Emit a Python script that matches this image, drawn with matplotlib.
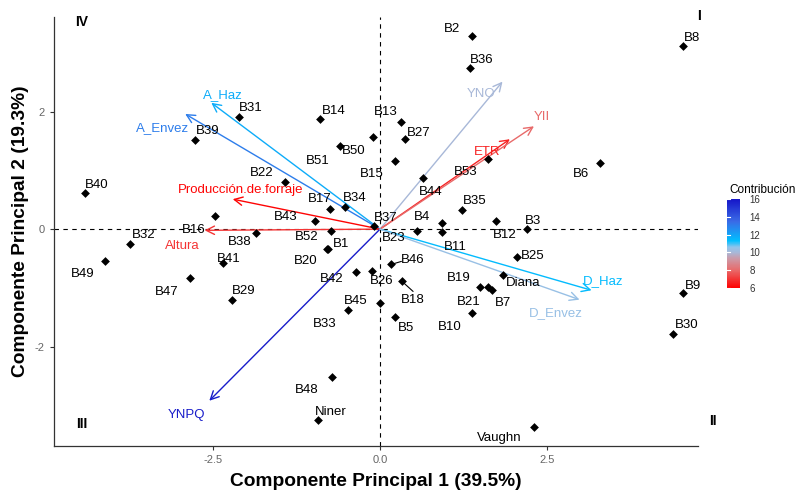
import numpy as np
import matplotlib.pyplot as plt
from matplotlib.colors import LinearSegmentedColormap, Normalize
import matplotlib.cm as cm

plt.rcParams['font.family'] = ['Liberation Sans', 'DejaVu Sans']

# individuals (PCA scores)
ind_names = ['B1', 'B2', 'B3', 'B4', 'B5', 'B6', 'B7', 'B8', 'B9', 'B10', 'B11', 'B12', 'B13',
             'B14', 'B15', 'B16', 'B17', 'B18', 'B19', 'B20', 'B21', 'B22', 'B23', 'B25', 'B26',
             'B27', 'B29', 'B30', 'B31', 'B32', 'B33', 'B34', 'B35', 'B36', 'B37', 'B38', 'B39',
             'B40', 'B41', 'B42', 'B43', 'B44', 'B45', 'B46', 'B47', 'B48', 'B49', 'B50', 'B51',
             'B52', 'B53', 'Diana', 'Niner', 'Vaughn']
ind_pc1 = [-0.78, 1.38, 2.19, 0.92, 0.23, 3.28, 1.67, 4.52, 4.52, 1.38, 0.93, 1.74, 0.31,
           -0.89, 0.22, -2.46, -0.74, 0.33, 1.50, -0.79, 1.62, -1.42, 0.56, 2.05, -0.12,
           0.37, -2.21, 4.38, -2.11, -3.73, -0.48, -0.52, 1.22, 1.34, -0.09, -1.85, -2.77,
           -4.41, -2.34, -0.36, -0.97, 0.64, 0.00, 0.17, -2.84, -0.72, -4.11, -0.60, -0.10,
           -0.73, 1.61, 1.84, -0.93, 2.30]
ind_pc2 = [-0.34, 3.29, 0.00, 0.10, -1.49, 1.13, -1.04, 3.11, -1.08, -1.42, -0.05, 0.14, 1.82,
           1.87, 1.16, 0.22, 0.35, -0.89, -0.98, -0.33, -0.99, 0.81, -0.04, -0.47, -0.71,
           1.53, -1.21, -1.78, 1.91, -0.26, -1.37, 0.37, 0.33, 2.75, 0.05, -0.06, 1.52,
           0.62, -0.58, -0.73, 0.14, 0.87, -1.25, -0.60, -0.83, -2.52, -0.54, 1.41, 1.57,
           -0.03, 1.20, -0.78, -3.24, -3.37]

# variables (loadings) and their contribution
var_names = ['A_Haz', 'A_Envez', 'Producción.de.forraje', 'Altura', 'YNPQ', 'YNO', 'ETR', 'YII',
             'D_Haz', 'D_Envez']
var_pc1 = [-2.52, -2.91, -2.20, -2.62, -2.55, 1.83, 1.94, 2.30, 3.16, 2.98]
var_pc2 = [2.15, 1.96, 0.51, -0.02, -2.92, 2.51, 1.53, 1.75, -1.04, -1.20]
var_contrib = [11.8, 13.0, 6.1, 7.0, 15.8, 10.0, 6.7, 8.0, 11.4, 10.4]

# label offsets in pixels (dx, dy screen-down)
ind_off = {'B1': (13, -5), 'B2': (-20, -7), 'B3': (6, -8), 'B4': (-20, -6), 'B5': (11, 11),
           'B6': (-19, 11), 'B7': (11, 13), 'B8': (9, -8), 'B9': (10, -7), 'B10': (-23, 14),
           'B11': (13, 15), 'B12': (8, 14), 'B13': (-15, -10), 'B14': (13, -8), 'B15': (-23, 13),
           'B16': (-22, 14), 'B17': (-11, -10), 'B18': (11, 19), 'B19': (-22, -9), 'B20': (-21, 12),
           'B21': (-20, 15), 'B22': (-23, -9), 'B23': (-24, 7), 'B25': (15, -1), 'B26': (10, 10),
           'B27': (14, -6), 'B29': (12, -9), 'B30': (13, -9), 'B31': (12, -9), 'B32': (13, -9),
           'B33': (-23, 14), 'B34': (9, -9), 'B35': (13, -9), 'B36': (12, -8), 'B37': (12, -8),
           'B38': (-16, 9), 'B39': (13, -9), 'B40': (12, -8), 'B41': (5, -4), 'B42': (-24, 7),
           'B43': (-29, -4), 'B44': (8, 14), 'B45': (-24, -2), 'B46': (21, -4), 'B47': (-23, 14),
           'B48': (-25, 13), 'B49': (-22, 13), 'B50': (14, 5), 'B51': (-56, 24), 'B52': (-24, 6),
           'B53': (-22, 13), 'Diana': (20, 8), 'Niner': (13, -8), 'Vaughn': (-35, 11)}
var_off = {'A_Haz': (12, -8), 'A_Envez': (-23, 14), 'Producción.de.forraje': (8, -9),
           'Altura': (-22, 16), 'YNPQ': (-23, 14), 'YNO': (-21, 12), 'ETR': (-23, 13),
           'YII': (8, -9), 'D_Haz': (12, -9), 'D_Envez': (-24, 13)}
seg_names = {'B46': (10, -3), 'B18': (11, 10)}

cmap = LinearSegmentedColormap.from_list('contrib', [
    (0.0, '#ff0000'), (0.2, '#e86a6a'), (0.33, '#cc9aa8'), (0.4, '#a8b8d8'),
    (0.46, '#90c4ec'), (0.53, '#00bfff'), (0.75, '#3a6ae6'), (1.0, '#1515c8')])
norm = Normalize(vmin=6, vmax=16)

fig = plt.figure(figsize=(8.01, 4.95), dpi=100)
ax = fig.add_axes([0.0674, 0.099, 0.804, 0.8667])
ax.set_xlim(-4.87, 4.75)
ax.set_ylim(-3.69, 3.61)

ax.axhline(0, color='black', ls=(0, (4, 4)), lw=0.8, zorder=1)
ax.axvline(0, color='black', ls=(0, (4, 4)), lw=0.8, zorder=1)

ax.scatter(ind_pc1, ind_pc2, marker='D', s=20, color='black', zorder=3, linewidths=0)
for n, x, y in zip(ind_names, ind_pc1, ind_pc2):
    dx, dy = ind_off[n]
    ax.annotate(n, (x, y), xytext=(dx, -dy), textcoords='offset pixels',
                ha='center', va='center', fontsize=9.5, color='black', zorder=4)
    if n in seg_names:
        sx, sy = seg_names[n]
        ax.annotate('', (x, y), xytext=(sx, -sy), textcoords='offset pixels',
                    arrowprops=dict(arrowstyle='-', color='black', lw=0.8, shrinkA=0, shrinkB=0))

for n, x, y, c in zip(var_names, var_pc1, var_pc2, var_contrib):
    col = cmap(norm(c))
    ax.annotate('', (x, y), xytext=(0, 0),
                arrowprops=dict(arrowstyle='->,head_length=0.6,head_width=0.3', color=col,
                                lw=1.0, shrinkA=0, shrinkB=0), zorder=2)
    dx, dy = var_off[n]
    ax.annotate(n, (x, y), xytext=(dx, -dy), textcoords='offset pixels',
                ha='center', va='center', fontsize=9.5, color=col, zorder=4)

for s in ['top', 'right']:
    ax.spines[s].set_visible(False)
for s in ['left', 'bottom']:
    ax.spines[s].set_color('#333333')
    ax.spines[s].set_linewidth(0.9)
ax.set_xticks([-2.5, 0.0, 2.5])
ax.set_xticklabels(['-2.5', '0.0', '2.5'])
ax.set_yticks([-2, 0, 2])
ax.set_yticklabels(['-2', '0', '2'])
ax.tick_params(colors='#333333', labelcolor='#666666', labelsize=8, length=3)

ax.set_xlabel('Componente Principal 1 (39.5%)', fontsize=13.8, fontweight='bold', labelpad=6)
ax.set_ylabel('Componente Principal 2 (19.3%)', fontsize=13.8, fontweight='bold', labelpad=4)

# quadrant labels
ax.text(-4.45, 3.53, 'IV', fontsize=10, fontweight='bold', ha='center', va='center')
ax.text(4.77, 3.62, 'I', fontsize=10, fontweight='bold', ha='center', va='center')
ax.text(-4.45, -3.31, 'III', fontsize=10, fontweight='bold', ha='center', va='center')
ax.text(4.97, -3.27, 'II', fontsize=10, fontweight='bold', ha='center', va='center')

# colorbar
cax = fig.add_axes([0.908, 0.418, 0.016, 0.18])
cb = fig.colorbar(cm.ScalarMappable(norm=norm, cmap=cmap), cax=cax, ticks=[6, 8, 10, 12, 14, 16])
cb.outline.set_visible(False)
cax.tick_params(labelsize=7, length=3, color='white', labelcolor='#333333')
for t in [6, 8, 10, 12, 14, 16]:
    cax.plot([0, 0.2], [t, t], color='white', lw=0.8, transform=cax.get_yaxis_transform())
cax.set_title('Contribución', fontsize=8.5, loc='left', pad=4, x=0.2)

fig.savefig('out.png', dpi=100)
